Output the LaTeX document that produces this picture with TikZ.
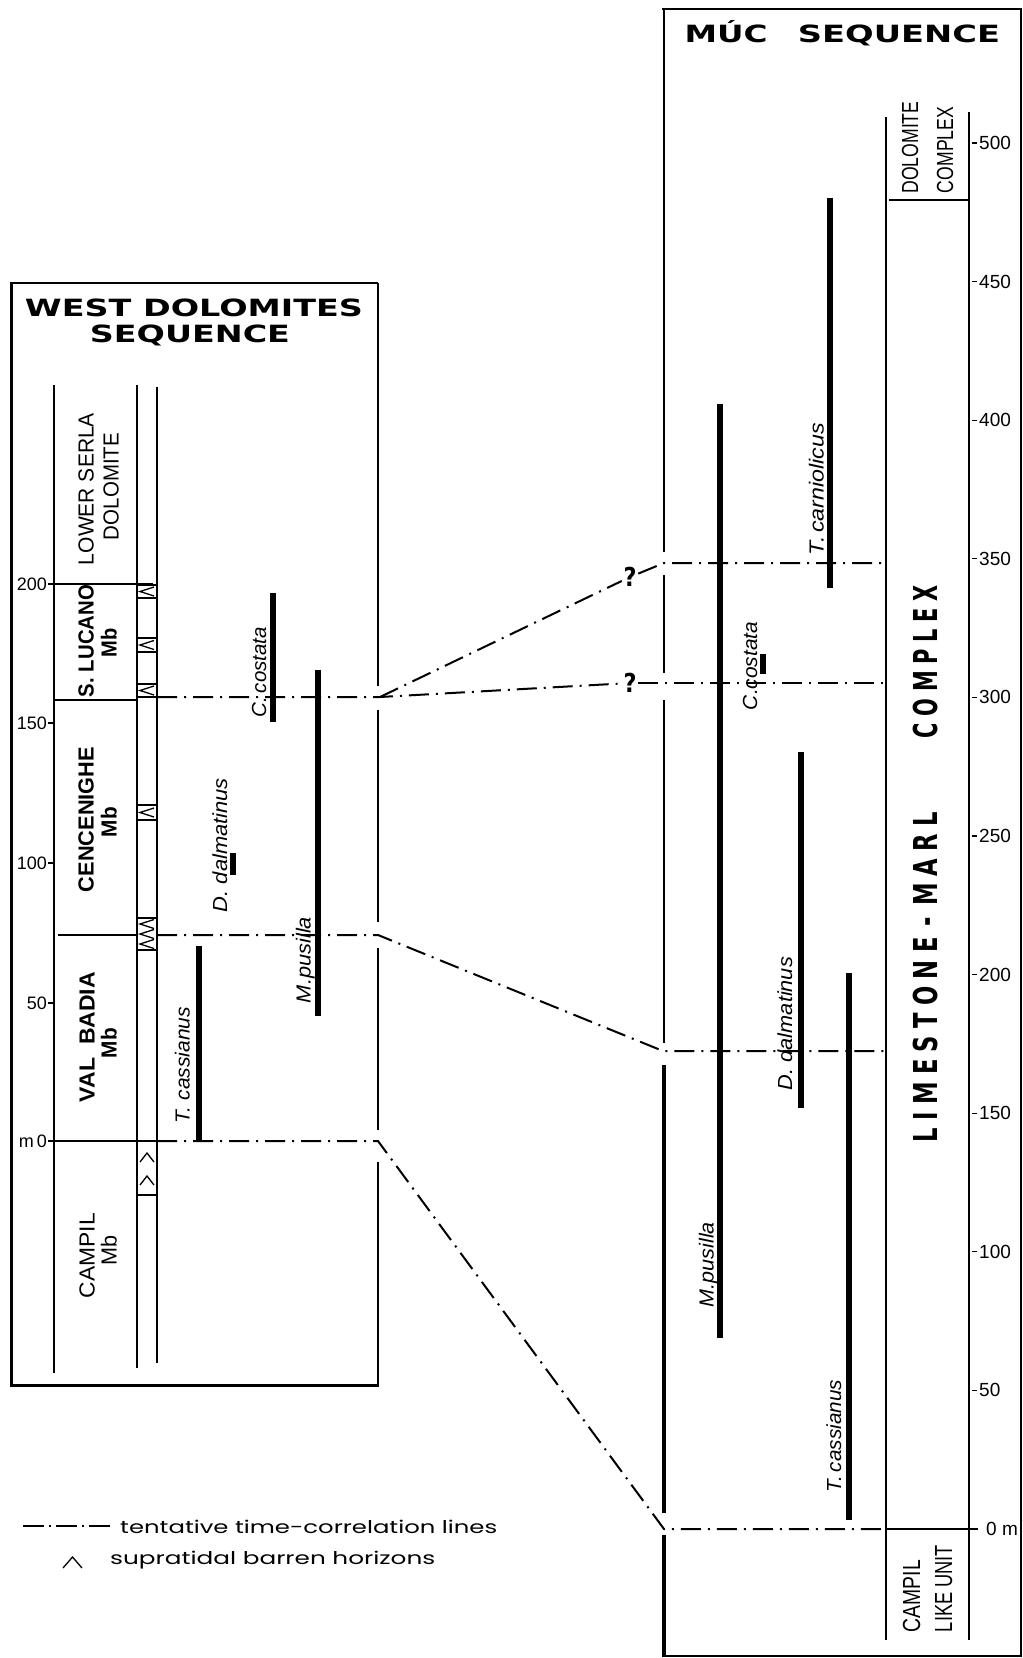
\documentclass[tikz,border=0pt]{standalone}
\usepackage{fontspec}
\usepackage{graphicx}
\setmainfont{Liberation Sans}
\newfontfamily\titlefont{DejaVu Sans}
\newfontfamily\legfont{Poppins}
\newcommand\fitM[3]{\resizebox{#1}{#2}{\raisebox{0pt}[\fontcharht\font`M][0pt]{#3}}}
\newcommand\fitl[3]{\resizebox{#1}{#2}{\raisebox{0pt}[\fontcharht\font`l][0pt]{#3}}}
\newcommand\kk{\kern0.32em}
\begin{document}
\begin{tikzpicture}[x=1pt,y=-1pt,
  thin/.style={line width=1.2pt},
  frame/.style={line width=3pt},
  corr/.style={line width=2pt, dash pattern=on 20pt off 7pt on 2pt off 7pt},
  bar/.style={line width=5.5pt},
  lab/.style={inner sep=0pt, rotate=90},
  spec/.style={inner sep=0pt, rotate=90, font=\itshape},
  num/.style={inner sep=0pt, font=\fontsize{18}{20}\selectfont},
  num2/.style={inner sep=0pt, font=\fontsize{19}{21}\selectfont},
  chev/.style={line width=1.3pt},
  qm/.style={inner sep=1.5pt, font=\titlefont\bfseries}
]
\useasboundingbox (0,0) rectangle (1023,1658);

% ---------------- WEST DOLOMITES frame ----------------
\draw[thin] (11,283) -- (378,283);
\draw[frame] (11,281.5) -- (11,1386.5);
\draw[frame] (9.5,1385) -- (378.6,1385);
\draw[thin] (378,283) -- (378,686);
\draw[thin] (378,710) -- (378,922);
\draw[thin] (378,948) -- (378,1130);
\draw[thin] (378,1162) -- (378,1385);

\node[inner sep=0pt] (wt1) at (194,308) {\titlefont\bfseries\fitM{338pt}{17.3pt}{WEST DOLOMITES}};
\node[inner sep=0pt] (wt2) at (190,334) {\titlefont\bfseries\fitM{200pt}{17.3pt}{SEQUENCE}};

% column lines
\draw[thin] (54,385) -- (54,1373);
\draw[thin] (137,385) -- (137,1368);
\draw[thin] (157,387) -- (157,1363);

% levels and ticks
\draw[thin] (48,584) -- (153,584);
\draw[thin] (54,700) -- (137,700);
\draw[thin] (58,935) -- (137,935);
\draw[thin] (48,1141) -- (157,1141);
\draw[thin] (48,723) -- (54,723);
\draw[thin] (48,863) -- (54,863);
\draw[thin] (48,1003) -- (54,1003);
\node[num, anchor=east] (n200) at (47,584) {200};
\node[num, anchor=east] (n150) at (47,723) {150};
\node[num, anchor=east] (n100) at (47,863) {100};
\node[num, anchor=east] (n50) at (47,1003) {50};
\node[num, anchor=east] (n0) at (47,1141) {m\,0};

% supratidal boxes
\foreach \ya/\yb in {585/598, 638/652, 684/697, 805/820, 918/950, 1141/1195}
  {\draw[thin] (137,\ya) -- (157,\ya); \draw[thin] (137,\yb) -- (157,\yb);}
\foreach \yc in {591.5, 645, 690.5, 812.5, 924, 934, 944}
  {\draw[chev] (154,\yc-4.5) -- (140,\yc) -- (154,\yc+4.5);}
\foreach \yc in {1153, 1176}
  {\draw[chev] (140,\yc+9) -- (147,\yc) -- (154,\yc+9);}

% unit labels
\node[lab] (ls1) at (86,489) {\fitM{152pt}{15pt}{LOWER SERLA}};
\node[lab] (ls2) at (111,486.5) {\fitM{107pt}{15pt}{DOLOMITE}};
\node[lab] (sl1) at (86,641) {\bfseries\fitM{112pt}{15pt}{S. LUCANO}};
\node[lab] (sl2) at (109,642.5) {\bfseries\fitM{29pt}{15pt}{Mb}};
\node[lab] (ce1) at (86,819.5) {\bfseries\fitM{145pt}{15pt}{CENCENIGHE}};
\node[lab] (ce2) at (109,822) {\bfseries\fitM{30pt}{15pt}{Mb}};
\node[lab] (vb1) at (87,1037) {\bfseries\fitM{130pt}{15pt}{VAL\ \ BADIA}};
\node[lab] (vb2) at (109,1043) {\bfseries\fitM{30pt}{15pt}{Mb}};
\node[lab] (cp1) at (87,1255.5) {\fitM{85pt}{15pt}{CAMPIL}};
\node[lab] (cp2) at (109,1250) {\fitM{30pt}{15pt}{Mb}};

% west fossil ranges
\draw[bar] (273,593) -- (273,722);
\draw[bar] (318,670) -- (318,1016);
\draw[bar] (233,853) -- (233,875);
\draw[bar] (199,946) -- (199,1142);
\node[spec] (cc1) at (259,672) {\fitl{90pt}{14pt}{C.\,costata}};
\node[spec] (dd1) at (220,845) {\fitl{134pt}{14pt}{D.\ dalmatinus}};
\node[spec] (mp1) at (303.5,960) {\fitl{86pt}{14pt}{M.pusilla}};
\node[spec] (tc1) at (182.5,1065) {\fitl{116pt}{14pt}{T.\ cassianus}};

% ---------------- MUC frame ----------------
\draw[thin] (662,9) -- (1021.5,9);
\draw[thin] (1021,9) -- (1021,1656.5);
\draw[line width=1.6pt] (662,1656) -- (1021.5,1656);
\draw[line width=2.5pt] (664,9) -- (664,552);
\draw[line width=2.5pt] (664,575) -- (664,673);
\draw[line width=2.5pt] (664,700) -- (664,1043);
\draw[line width=4pt] (664,1065) -- (664,1513);
\draw[line width=4pt] (664,1535) -- (664,1656);

\node[inner sep=0pt] (mt1) at (726,33.5) {\titlefont\bfseries\fitM{83pt}{17.3pt}{MÚC}};
\node[inner sep=0pt] (mt2) at (899,33.5) {\titlefont\bfseries\fitM{202pt}{17.3pt}{SEQUENCE}};

\draw[thin] (886,117) -- (886,1640);
\draw[thin] (969,112) -- (969,1640);
\draw[thin] (889,200) -- (969,200);

\foreach \m in {50,100,...,500}{
  \pgfmathsetmacro\yy{1529-2.772*\m}
  \draw[thin] (972,\yy) -- (977,\yy);
  \node[num2, anchor=west] (tk\m) at (979,\yy) {\m};
}
\draw[thin] (969,1529) -- (978,1529);
\node[num2, anchor=west] (tk0) at (986,1529) {0 m};

\node[lab] (dc1) at (910,147.5) {\fitM{92pt}{16pt}{DOLOMITE}};
\node[lab] (dc2) at (945,150) {\fitM{86pt}{16pt}{COMPLEX}};
\node[lab] (cl1) at (911.5,1596) {\fitM{72pt}{17pt}{CAMPIL}};
\node[lab] (cl2) at (943.5,1588.5) {\fitM{87pt}{17pt}{LIKE UNIT}};

\node[lab] (lm1) at (925,977) {\titlefont\bfseries\fitM{330pt}{24pt}{L\kk I\kk M\kk E\kk S\kk T\kk O\kk N\kk E\kk\,-\,\kk M\kk A\kk R\kk L}};
\node[lab] (lm2) at (925,661.5) {\titlefont\bfseries\fitM{153pt}{24pt}{C\kk O\kk M\kk P\kk L\kk E\kk X}};

% muc fossil ranges
\draw[bar] (720,404) -- (720,1338);
\draw[bar] (830,198) -- (830,588);
\draw[bar] (763,654) -- (763,674);
\draw[bar] (801,752) -- (801,1108);
\draw[bar] (849,973) -- (849,1520);
\node[spec] (tca) at (816.5,489) {\fitl{132pt}{14pt}{T.\,carniolicus}};
\node[spec] (cc2) at (750,666) {\fitl{88pt}{14pt}{C.costata}};
\node[spec] (dd2) at (785,1023.5) {\fitl{133pt}{14pt}{D.\ dalmatinus}};
\node[spec] (tc2) at (834,1436) {\fitl{112pt}{14pt}{T.\,cassianus}};
\node[spec] (mp2) at (706.5,1264.5) {\fitl{85pt}{14pt}{M.pusilla}};

% ---------------- correlation lines ----------------
\coordinate (wA) at (157,1141); \coordinate (jA) at (378,1141);
\coordinate (mA) at (664,1529); \coordinate (eA) at (886,1529); \coordinate (rA) at (969,1529);
\coordinate (wB) at (157,935); \coordinate (jB) at (378,935);
\coordinate (mB) at (663,1051); \coordinate (eB) at (886,1051);
\coordinate (wC) at (157,697); \coordinate (jC) at (380,697);
\coordinate (mC) at (664,683); \coordinate (eC) at (886,683);
\coordinate (mD) at (664,563); \coordinate (eD) at (886,563);
\node[qm] (q1) at (630,577) {\fitM{13pt}{19pt}{?}};
\node[qm] (q2) at (630,683) {\fitM{13pt}{19pt}{?}};

\draw[corr] (wA) -- (jA) -- (mA) -- (eA);
\draw[thin] (eA) -- (rA);
\draw[corr] (wB) -- (jB) -- (mB) -- (eB);
\draw[corr] (wC) -- (jC) -- (q2);
\draw[corr] (q2) -- (mC) -- (eC);
\draw[corr] (jC) -- (q1);
\draw[corr] (q1) -- (mD) -- (eD);

% ---------------- legend ----------------
\coordinate (lg1) at (23,1526); \coordinate (lg2) at (110,1526);
\draw[line width=2.5pt, dash pattern=on 21pt off 5pt on 2pt off 5pt] (lg1) -- (lg2);
\node[inner sep=0pt, anchor=west] (lgt1) at (120,1526.5) {\legfont\fitl{377pt}{13pt}{tentative time-correlation lines}};
\draw[chev] (63,1568) -- (72.5,1557) -- (82,1568);
\node[inner sep=0pt, anchor=west] (lgt2) at (110,1557.5) {\legfont\fitl{325pt}{13pt}{supratidal barren horizons}};
\end{tikzpicture}
\end{document}
